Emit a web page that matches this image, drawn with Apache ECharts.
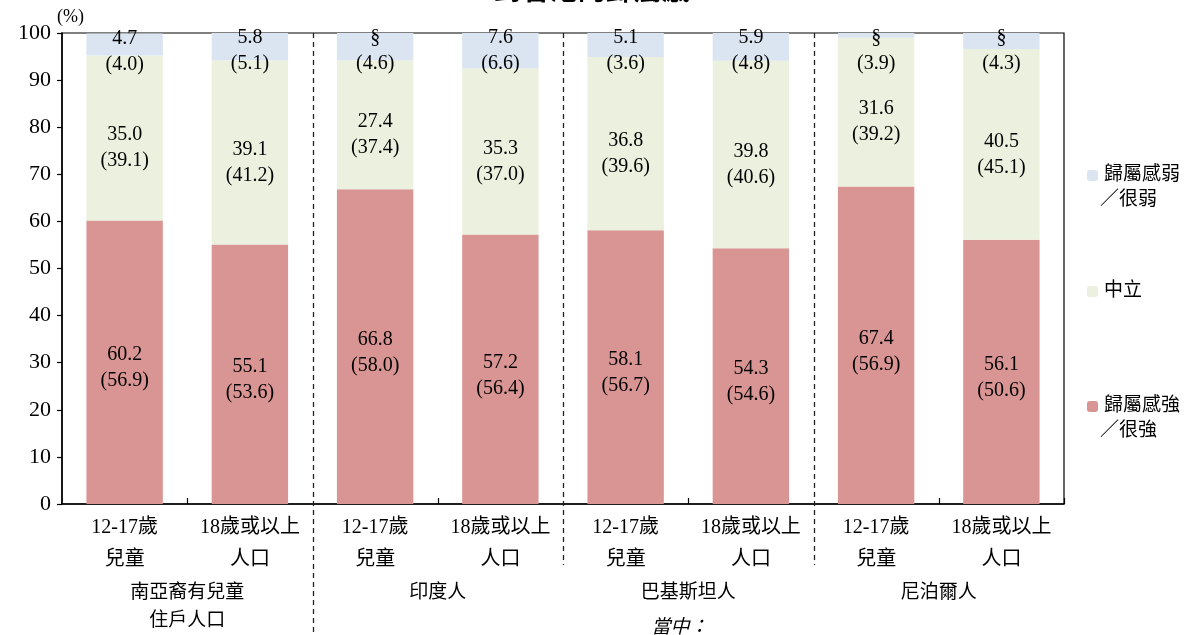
<!DOCTYPE html>
<html>
<head>
<meta charset="utf-8">
<script src="https://cdn.jsdelivr.net/npm/echarts@6/dist/echarts.min.js"></script>
<style>html,body{margin:0;padding:0;background:#fff;}#c{width:1187px;height:635px;}</style>
</head>
<body>
<div id="c"></div>
<script>
var categories = ['12-17歲\n兒童', '18歲或以上\n人口', '12-17歲\n兒童', '18歲或以上\n人口', '12-17歲\n兒童', '18歲或以上\n人口', '12-17歲\n兒童', '18歲或以上\n人口'];
var groups = ['南亞裔有兒童\n住戶人口', '印度人', '巴基斯坦人', '尼泊爾人'];
var yTicks = [0, 10, 20, 30, 40, 50, 60, 70, 80, 90, 100];
var seriesNames = ['歸屬感強／很強', '中立', '歸屬感弱／很弱'];
var strongValues = [60.2, 55.1, 66.8, 57.2, 58.1, 54.3, 67.4, 56.1];
var strongPrev = ['56.9', '53.6', '58.0', '56.4', '56.7', '54.6', '56.9', '50.6'];
var neutralValues = [35.0, 39.1, 27.4, 35.3, 36.8, 39.8, 31.6, 40.5];
var neutralPrev = ['39.1', '41.2', '37.4', '37.0', '39.6', '40.6', '39.2', '45.1'];
var weakValues = [4.7, 5.8, 5.8, 7.6, 5.1, 5.9, 1.0, 3.4];
var weakShown = ['4.7', '5.8', '§', '7.6', '5.1', '5.9', '§', '§'];
var weakPrev = ['4.0', '5.1', '4.6', '6.6', '3.6', '4.8', '3.9', '4.3'];
var title = '對香港的歸屬感';

var SERIF = '"Liberation Serif", "Noto Sans CJK TC", serif';
var chart = echarts.init(document.getElementById('c'), null, {renderer: 'canvas'});

function lbl(shown, prev, extra) {
  return Object.assign({
    show: true,
    color: '#000',
    fontFamily: SERIF,
    fontSize: 20,
    lineHeight: 26,
    formatter: function (p) { return shown[p.dataIndex] + '\n(' + prev[p.dataIndex] + ')'; }
  }, extra);
}

var option = {
  animation: false,
  backgroundColor: '#fff',
  textStyle: {fontFamily: SERIF},
  grid: {left: 62, right: 123, top: 33, bottom: 131, show: true, borderColor: '#000', borderWidth: 1.2, backgroundColor: 'transparent'},
  legend: [
    {orient: 'vertical', left: 1082, top: 161, itemWidth: 11, itemHeight: 11, data: [seriesNames[2]], selectedMode: false,
     textStyle: {fontFamily: SERIF, fontSize: 19, color: '#000', padding: [0, 0, 0, 1]},
     formatter: function (n) { return n.split('／')[0]; }},
    {orient: 'vertical', left: 1082, top: 277, itemWidth: 11, itemHeight: 11, data: [seriesNames[1]], selectedMode: false,
     textStyle: {fontFamily: SERIF, fontSize: 19, color: '#000', padding: [0, 0, 0, 1]}},
    {orient: 'vertical', left: 1082, top: 392, itemWidth: 11, itemHeight: 11, data: [seriesNames[0]], selectedMode: false,
     textStyle: {fontFamily: SERIF, fontSize: 19, color: '#000', padding: [0, 0, 0, 1]},
     formatter: function (n) { return n.split('／')[0]; }}
  ],
  xAxis: [
    {
      type: 'category', data: categories, position: 'bottom',
      axisLine: {lineStyle: {color: '#000', width: 1.5}},
      axisTick: {show: true, inside: true, length: 6, lineStyle: {color: '#000', width: 1.2},
                 interval: function (i) { return i % 2 === 1; }},
      axisLabel: {color: '#000', fontFamily: SERIF, fontSize: 20, lineHeight: 32, margin: 8, interval: 0}
    },
    {
      type: 'category', data: groups, position: 'bottom', offset: 75,
      axisLine: {show: false}, axisTick: {show: false},
      axisLabel: {color: '#000', fontFamily: SERIF, fontSize: 19, lineHeight: 28, margin: 0, interval: 0}
    }
  ],
  yAxis: {
    type: 'value', min: 0, max: 100, interval: 10,
    name: '(%)', nameLocation: 'end', nameGap: 7,
    nameTextStyle: {color: '#000', fontFamily: SERIF, fontSize: 18, align: 'left', padding: [0, 0, 0, -5]},
    axisLine: {show: true, lineStyle: {color: '#000', width: 1.5}},
    axisTick: {show: true, length: 5, lineStyle: {color: '#000', width: 1.2}},
    axisLabel: {color: '#000', fontFamily: SERIF, fontSize: 22, margin: 11,
                formatter: function (v) { return yTicks.indexOf(v) >= 0 ? String(v) : ''; }},
    splitLine: {show: false}
  },
  series: [
    {name: seriesNames[0], type: 'bar', stack: 'a', data: strongValues, barWidth: '61%',
     itemStyle: {color: '#d99594'}, label: lbl(strongValues.map(function (v) { return v.toFixed(1); }), strongPrev, {position: 'inside', offset: [0, 6]})},
    {name: seriesNames[1], type: 'bar', stack: 'a', data: neutralValues, barWidth: '61%',
     itemStyle: {color: '#ebf1de'}, label: lbl(neutralValues.map(function (v) { return v.toFixed(1); }), neutralPrev, {position: 'inside', offset: [0, 10]})},
    {name: seriesNames[2], type: 'bar', stack: 'a', data: weakValues, barWidth: '61%',
     itemStyle: {color: '#dbe5f1'}, label: lbl(weakShown, weakPrev, {position: 'insideTop', distance: 0, offset: [0, -8]})}
  ]
};
chart.setOption(option);

function boundary(i) {
  var a = chart.convertToPixel({xAxisIndex: 0}, i);
  var b = chart.convertToPixel({xAxisIndex: 0}, i + 1);
  return (a + b) / 2;
}
var topY = chart.convertToPixel({yAxisIndex: 0}, 100);
var seps = [{i: 1, end: 634}, {i: 3, end: 565}, {i: 5, end: 565}];
var graphics = seps.map(function (s) {
  var x = Math.round(boundary(s.i)) + 0.5;
  return {type: 'line', shape: {x1: x, y1: topY, x2: x, y2: s.end},
          style: {stroke: '#222', lineWidth: 1.3, lineDash: [5, 4]}, z: 10};
});
graphics.push({type: 'text', x: 1100, y: 200, style: {text: '／很弱', font: '19px ' + SERIF, fill: '#000', textVerticalAlign: 'middle'}});
graphics.push({type: 'text', x: 1100, y: 431, style: {text: '／很強', font: '19px ' + SERIF, fill: '#000', textVerticalAlign: 'middle'}});
graphics.push({type: 'text', x: 680, y: 628, style: {text: '當中：', font: 'italic 19px ' + SERIF, fill: '#000', textAlign: 'center', textVerticalAlign: 'middle'}});
graphics.push({type: 'text', x: 592, y: 7, style: {text: title, font: 'bold 28px ' + SERIF, fill: '#000', textAlign: 'center', textVerticalAlign: 'bottom'}});
chart.setOption({graphic: graphics});
</script>
</body>
</html>
